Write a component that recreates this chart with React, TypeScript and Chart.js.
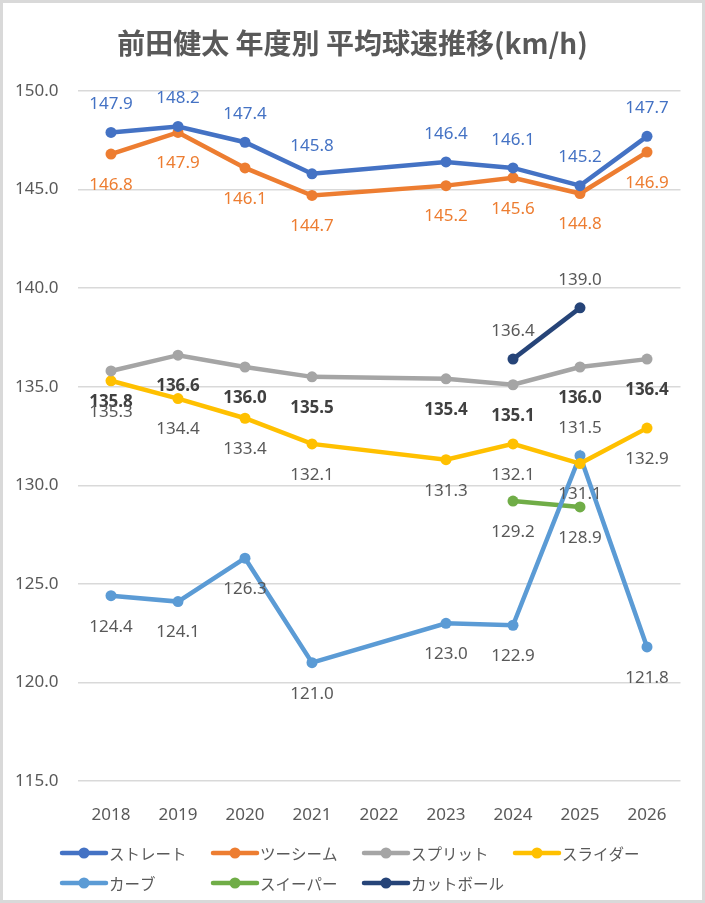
import { useEffect, useRef } from "react";
import { Chart, registerables } from "chart.js";

Chart.register(...registerables);

const years = ["2018", "2019", "2020", "2021", "2022", "2023", "2024", "2025", "2026"];
const straight = [147.9, 148.2, 147.4, 145.8, null, 146.4, 146.1, 145.2, 147.7];
const twoSeam = [146.8, 147.9, 146.1, 144.7, null, 145.2, 145.6, 144.8, 146.9];
const split = [135.8, 136.6, 136.0, 135.5, null, 135.4, 135.1, 136.0, 136.4];
const slider = [135.3, 134.4, 133.4, 132.1, null, 131.3, 132.1, 131.1, 132.9];
const curve = [124.4, 124.1, 126.3, 121.0, null, 123.0, 122.9, 131.5, 121.8];
const sweeper = [null, null, null, null, null, null, 129.2, 128.9, null];
const cutter = [null, null, null, null, null, null, 136.4, 139.0, null];

const TITLE = "前田健太 年度別 平均球速推移(km/h)";
const GRAY_TEXT = "#595959";
const CJK = '"Noto Sans CJK JP", "Noto Sans", sans-serif';
const LATIN = '"Noto Sans", "DejaVu Sans", sans-serif';

// series styling: colour, label colour, bold labels, indices whose label sits above the point
const series = [
  { name: "ストレート", data: straight, color: "#4472C4", labelColor: "#4472C4", bold: false, above: "all" },
  { name: "ツーシーム", data: twoSeam, color: "#ED7D31", labelColor: "#ED7D31", bold: false, above: [] },
  { name: "スプリット", data: split, color: "#A5A5A5", labelColor: "#404040", bold: true, above: [] },
  { name: "スライダー", data: slider, color: "#FFC000", labelColor: GRAY_TEXT, bold: false, above: [] },
  { name: "カーブ", data: curve, color: "#5B9BD5", labelColor: GRAY_TEXT, bold: false, above: [7] },
  { name: "スイーパー", data: sweeper, color: "#70AD47", labelColor: GRAY_TEXT, bold: false, above: [] },
  { name: "カットボール", data: cutter, color: "#264478", labelColor: GRAY_TEXT, bold: false, above: "all" },
];

const dataLabelPlugin = {
  id: "dataLabels",
  afterDatasetsDraw(chart: any) {
    const ctx = chart.ctx;
    ctx.save();
    ctx.textAlign = "center";
    ctx.textBaseline = "middle";
    chart.data.datasets.forEach((ds: any, di: number) => {
      const s = series[di];
      const meta = chart.getDatasetMeta(di);
      ctx.fillStyle = s.labelColor;
      ctx.font = `${s.bold ? "bold " : ""}17px ${LATIN}`;
      meta.data.forEach((pt: any, i: number) => {
        const v = ds.data[i];
        if (v == null) return;
        const isAbove = s.above === "all" || (s.above as number[]).includes(i);
        const y = isAbove ? pt.y - 28 : pt.y + 31;
        ctx.fillText(Number(v).toFixed(1), pt.x, y);
      });
    });
    ctx.restore();
  },
};

const legendAndFramePlugin = {
  id: "legendFrame",
  afterDraw(chart: any) {
    const ctx = chart.ctx;
    ctx.save();
    // legend, 4 columns
    const colW = 151;
    const startX = 62;
    const rowY = [853, 883];
    ctx.font = `15.5px ${CJK}`;
    ctx.textBaseline = "middle";
    ctx.textAlign = "left";
    series.forEach((s, i) => {
      const x = startX + (i % 4) * colW;
      const y = rowY[Math.floor(i / 4)];
      ctx.strokeStyle = s.color;
      ctx.lineWidth = 4.5;
      ctx.lineCap = "round";
      ctx.beginPath();
      ctx.moveTo(x, y);
      ctx.lineTo(x + 44, y);
      ctx.stroke();
      ctx.fillStyle = s.color;
      ctx.beginPath();
      ctx.arc(x + 22, y, 5.5, 0, Math.PI * 2);
      ctx.fill();
      ctx.fillStyle = GRAY_TEXT;
      ctx.fillText(s.name, x + 47, y + 1);
    });
    // outer frame
    ctx.strokeStyle = "#D9D9D9";
    ctx.lineWidth = 3;
    ctx.strokeRect(1.5, 1.5, chart.width - 3, chart.height - 3);
    ctx.restore();
  },
};

export default function App() {
  const canvasRef = useRef<HTMLCanvasElement>(null);
  const chartRef = useRef<Chart | null>(null);

  useEffect(() => {
    document.body.style.margin = "0";
    if (!canvasRef.current) return;
    if (chartRef.current) chartRef.current.destroy();

    chartRef.current = new Chart(canvasRef.current, {
      type: "line",
      data: {
        labels: years,
        datasets: series.map((s) => ({
          label: s.name,
          data: s.data,
          borderColor: s.color,
          backgroundColor: s.color,
          pointBackgroundColor: s.color,
          pointBorderColor: s.color,
          pointBorderWidth: 0,
          pointRadius: 5.5,
          borderWidth: 4.5,
          tension: 0,
          spanGaps: true,
        })),
      },
      plugins: [dataLabelPlugin, legendAndFramePlugin],
      options: {
        responsive: true,
        maintainAspectRatio: false,
        animation: false,
        layout: { padding: { left: 0, right: 0, top: 0, bottom: 77 } },
        plugins: {
          legend: { display: false },
          tooltip: { enabled: false },
          title: {
            display: true,
            text: TITLE,
            color: GRAY_TEXT,
            font: { family: CJK, size: 28, weight: "bold", lineHeight: 1.2 },
            padding: { top: 27, bottom: 30.4 },
          },
        },
        scales: {
          x: {
            offset: true,
            grid: { display: false },
            border: { display: false },
            ticks: { color: GRAY_TEXT, font: { family: LATIN, size: 17 }, padding: 16, maxRotation: 0 },
            afterFit: (scale: any) => {
              scale.height = 45;
            },
          },
          y: {
            min: 115,
            max: 150,
            grid: { color: "#D9D9D9", lineWidth: 1.5, drawTicks: false },
            border: { display: false },
            ticks: {
              stepSize: 5,
              color: GRAY_TEXT,
              font: { family: LATIN, size: 17 },
              padding: 19,
              callback: (v: any) => Number(v).toFixed(1),
            },
            afterFit: (scale: any) => {
              scale.width = 77.5;
            },
          },
          // empty right-hand axis, only reserves the right margin
          yRight: {
            position: "right",
            min: 115,
            max: 150,
            grid: { display: false },
            border: { display: false },
            ticks: { display: false },
            afterFit: (scale: any) => {
              scale.width = 24.5;
            },
          },
        },
      },
    });

    return () => {
      if (chartRef.current) {
        chartRef.current.destroy();
        chartRef.current = null;
      }
    };
  }, []);

  return (
    <div style={{ position: "absolute", top: 0, left: 0, width: 705, height: 903, background: "#fff" }}>
      <canvas ref={canvasRef} />
    </div>
  );
}
